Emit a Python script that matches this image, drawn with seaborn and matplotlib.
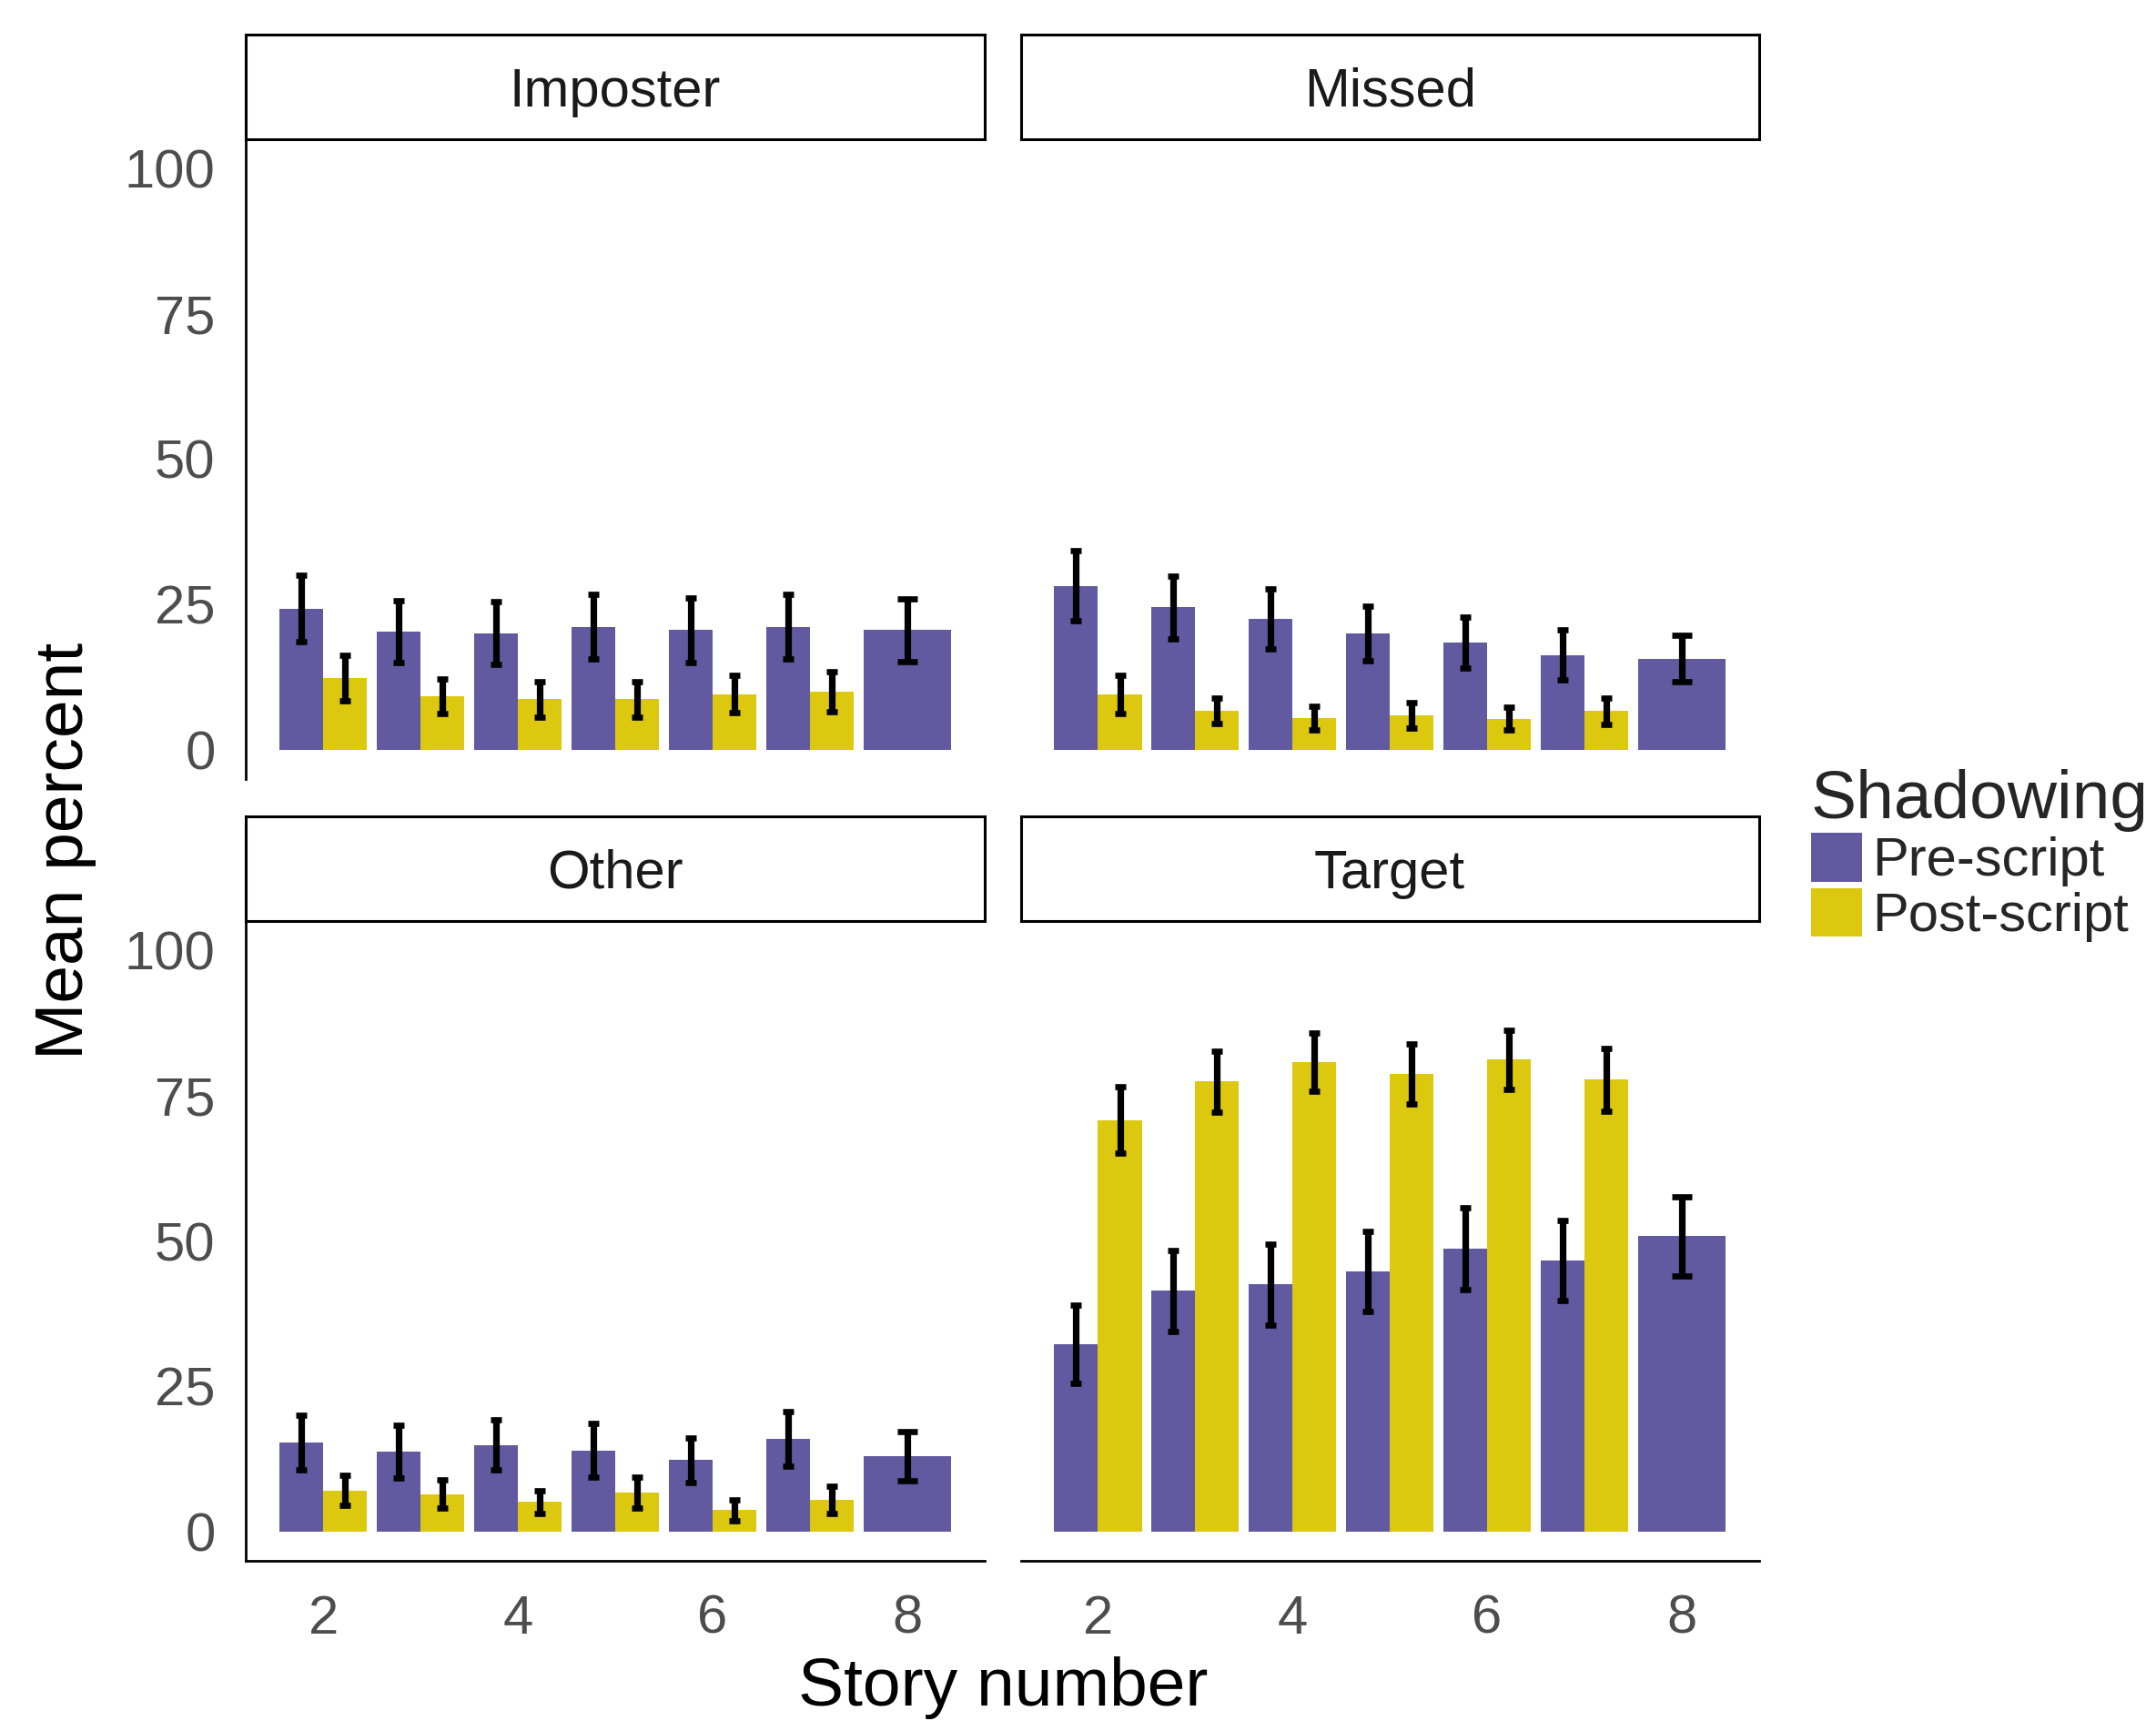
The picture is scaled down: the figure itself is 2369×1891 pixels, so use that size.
import matplotlib
matplotlib.use('Agg')
import matplotlib.pyplot as plt
from matplotlib.patches import Patch
import numpy as np
import pandas as pd
import seaborn as sns

STORIES_PRE = [2, 3, 4, 5, 6, 7, 8]
STORIES_POST = [2, 3, 4, 5, 6, 7]
CONDITIONS = ["Pre-script", "Post-script"]
PANELS = ["Imposter", "Missed", "Other", "Target"]

# mean percent and half-width of error bar
imposter_pre = [24.3, 20.4, 20.1, 21.2, 20.6, 21.2, 20.6]
imposter_pre_se = [5.7, 5.3, 5.4, 5.5, 5.5, 5.6, 5.4]
imposter_post = [12.4, 9.2, 8.7, 8.7, 9.6, 10.0]
imposter_post_se = [3.9, 3.0, 3.1, 3.0, 3.2, 3.4]

missed_pre = [28.2, 24.5, 22.5, 20.1, 18.5, 16.3, 15.7]
missed_pre_se = [6.0, 5.4, 5.2, 4.7, 4.4, 4.3, 4.0]
missed_post = [9.6, 6.8, 5.5, 6.0, 5.4, 6.7]
missed_post_se = [3.3, 2.2, 2.0, 2.2, 1.9, 2.3]

other_pre = [15.3, 13.8, 14.9, 14.0, 12.3, 16.0, 13.0]
other_pre_se = [4.7, 4.5, 4.3, 4.6, 3.8, 4.7, 4.2]
other_post = [7.1, 6.5, 5.1, 6.7, 3.7, 5.5]
other_post_se = [2.6, 2.5, 2.0, 2.7, 1.75, 2.4]

target_pre = [32.2, 41.4, 42.5, 44.8, 48.7, 46.6, 50.8]
target_pre_se = [6.7, 6.9, 7.0, 6.9, 7.0, 6.9, 6.8]
target_post = [70.8, 77.4, 80.7, 78.7, 81.2, 77.7]
target_post_se = [5.7, 5.3, 5.0, 5.1, 5.1, 5.4]

PALETTE = {"Pre-script": "#625AA0", "Post-script": "#DCC80E"}


def build_frame():
    series = {
        "Imposter": (imposter_pre, imposter_pre_se, imposter_post, imposter_post_se),
        "Missed": (missed_pre, missed_pre_se, missed_post, missed_post_se),
        "Other": (other_pre, other_pre_se, other_post, other_post_se),
        "Target": (target_pre, target_pre_se, target_post, target_post_se),
    }
    rows = []
    for panel, (pre, pre_se, post, post_se) in series.items():
        for s, m, e in zip(STORIES_PRE, pre, pre_se):
            rows.append({"panel": panel, "story": s, "shadowing": "Pre-script", "mean": m, "se": e})
        for s, m, e in zip(STORIES_POST, post, post_se):
            rows.append({"panel": panel, "story": s, "shadowing": "Post-script", "mean": m, "se": e})
    return pd.DataFrame(rows)


df = build_frame()

sns.set_style("white")
plt.rcParams['font.family'] = ['Liberation Sans', 'DejaVu Sans']

W, H, DPI = 2369, 1891, 200
fig = plt.figure(figsize=(W / DPI, H / DPI), dpi=DPI)

col_x = [270.4 / W, 1121.5 / W]
panel_w = 811.3 / W
row_y = [1 - 856.0 / H, 1 - 1715.0 / H]
panel_h = 703.0 / H
strip_h = 115.0 / H

TICK_SIZE = 21.5
for i, name in enumerate(PANELS):
    r, c = divmod(i, 2)
    ax = fig.add_axes([col_x[c], row_y[r], panel_w, panel_h])
    sub = df[df.panel == name]
    paired = sub[sub.story.isin(STORIES_POST)]
    single = sub[~sub.story.isin(STORIES_POST)]

    sns.barplot(data=paired, x="story", y="mean", hue="shadowing",
                hue_order=CONDITIONS, palette=PALETTE, native_scale=True,
                width=0.9, dodge=True, saturation=1, errorbar=None,
                legend=False, linewidth=0, ax=ax)
    # story 8 only has a pre-script bar, which takes the full width
    sns.barplot(data=single, x="story", y="mean", color=PALETTE["Pre-script"],
                native_scale=True, width=0.9, saturation=1, errorbar=None,
                linewidth=0, ax=ax)

    # error bars, dodged the same way as the bars
    offsets = {"Pre-script": -0.225, "Post-script": 0.225}
    for cond, grp in paired.groupby("shadowing"):
        ax.errorbar(grp.story + offsets[cond], grp["mean"], yerr=grp.se,
                    fmt="none", ecolor="black", elinewidth=2.6,
                    capsize=2.0, capthick=2.4, zorder=5)
    ax.errorbar(single.story, single["mean"], yerr=single.se, fmt="none",
                ecolor="black", elinewidth=2.6, capsize=3.8, capthick=2.4,
                zorder=5)

    ax.set_xlim(1.205, 8.795)
    ax.set_ylim(-5, 105)
    ax.set_xticks([2, 4, 6, 8])
    ax.set_yticks([0, 25, 50, 75, 100])
    ax.set_xlabel("")
    ax.set_ylabel("")
    ax.tick_params(axis="both", length=6.2, width=1.0, color="#333333",
                   labelcolor="#4D4D4D", labelsize=TICK_SIZE, pad=6)
    ax.tick_params(axis="x", pad=7)
    for side in ["top", "right"]:
        ax.spines[side].set_visible(False)
    for side in ["left", "bottom"]:
        ax.spines[side].set_color("black")
        ax.spines[side].set_linewidth(1.0)
    if r == 0:
        ax.spines["bottom"].set_visible(False)
        ax.tick_params(axis="x", bottom=False, labelbottom=False)
    if c == 1:
        ax.spines["left"].set_visible(False)
        ax.tick_params(axis="y", left=False, labelleft=False)

    # facet strip
    sax = fig.add_axes([col_x[c], row_y[r] + panel_h, panel_w, strip_h])
    sax.set_xticks([])
    sax.set_yticks([])
    sax.set_facecolor("white")
    for sp in sax.spines.values():
        sp.set_color("black")
        sp.set_linewidth(1.1)
    sax.text(0.5, 0.45, name, ha="center", va="center", fontsize=21.5,
             color="#1A1A1A", transform=sax.transAxes)

fig.text(0.4652, 17.0 / H, "Story number", ha="center", va="baseline",
         fontsize=27, color="black")
fig.text(0.030, 0.5055, "Mean percent", ha="center", va="center",
         rotation=90, fontsize=27, color="black")

handles = [Patch(facecolor=PALETTE[c], edgecolor="none", label=c) for c in CONDITIONS]
fig.legend(handles=handles, title="Shadowing", loc="upper left",
           bbox_to_anchor=(1990 / W, 1 - 845 / H), frameon=False,
           fontsize=21.5, title_fontsize=27, alignment="left",
           handlelength=0.93, handleheight=1.0, handletextpad=0.2,
           labelspacing=0.02, borderpad=0, borderaxespad=0)

fig.savefig("out.png", dpi=DPI)
